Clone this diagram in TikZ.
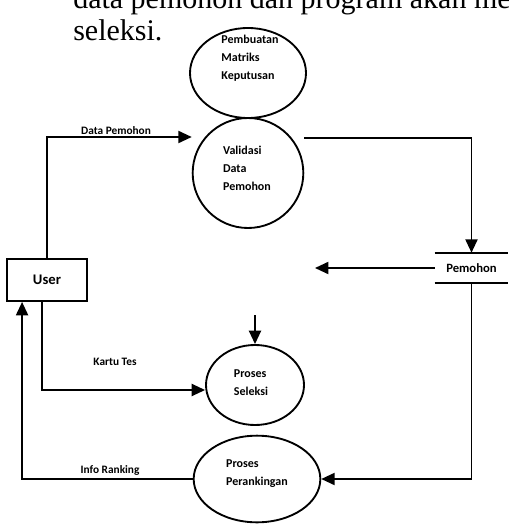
\documentclass[tikz,border=0pt]{standalone}
\usepackage{fontspec}
\setmainfont{Liberation Serif}
\newfontfamily\dfdfont{Carlito}
\usetikzlibrary{shapes.geometric,arrows.meta,calc}

\tikzset{
  proses/.style={draw, ellipse, line width=1.4pt, inner sep=0pt},
  teks/.style={font=\dfdfont\bfseries\fontsize{9}{13.5}\selectfont, align=left, inner sep=0pt},
  lbl/.style={font=\dfdfont\bfseries\fontsize{8.5}{10}\selectfont, inner sep=0pt},
  garis/.style={line width=1.4pt},
  flow/.style={line width=1.4pt, -{Triangle[length=10pt,width=9pt]}}
}

\begin{document}
\begin{tikzpicture}[x=0.75pt,y=0.75pt,yscale=-1,xscale=1]
\useasboundingbox (0,0) rectangle (508,524);
\clip (0,0) rectangle (508,524);
% teks paragraf
\node[anchor=base west, inner sep=0pt, font=\fontsize{22.5}{26}\selectfont] (para1) at (73,9) {data pemohon dan program akan mene};
\node[anchor=base west, inner sep=0pt, font=\fontsize{22.5}{26}\selectfont] (para2) at (73,41) {seleksi.};
% proses
\node[proses, minimum width=87pt, minimum height=67.5pt] (matriks) at (248,73) {};
\node[teks] (matriks-t) at (250,58) {Pembuatan\\Matriks\\Keputusan};
\node[proses, minimum width=83pt, minimum height=82.5pt] (validasi) at (248,173) {};
\node[teks] (validasi-t) at (247,168) {Validasi\\Data\\Pemohon};
\node[proses, minimum width=73.5pt, minimum height=60pt] (seleksi) at (255,385) {};
\node[teks] (seleksi-t) at (251,383) {Proses\\Seleksi};
\node[proses, minimum width=95pt, minimum height=65pt] (ranking) at (257,479) {};
\node[teks] (ranking-t) at (257,474) {Proses\\Perankingan};
% entitas dan data store
\node[draw, garis, minimum width=60pt, minimum height=31.5pt, font=\dfdfont\bfseries\fontsize{11}{13}\selectfont] (user) at (47,280) {User};
\node[minimum width=55pt, minimum height=22.5pt, inner sep=0pt, font=\dfdfont\bfseries\fontsize{9.5}{11}\selectfont] (pemohon) at (471.5,268) {Pemohon};
\draw[garis] (pemohon.north west) -- (pemohon.north east);
\draw[garis] (pemohon.south west) -- (pemohon.south east);
\coordinate (kiri) at (315,268);
\coordinate (atas) at (255,315);
% aliran data
\draw[flow] (user.north) |- ($(validasi.west)+(0,-36)$);
\draw[flow] ($(validasi.east)+(0,-35)$) -| (pemohon.north);
\draw[flow] (pemohon.west) -- (kiri);
\draw[flow] (pemohon.south) |- (ranking.east);
\draw[flow] (ranking.west) -| ($(user.south west)+(16,0)$);
\draw[flow] ($(user.south)+(-5,0)$) |- ($(seleksi.west)+(0,5)$);
\draw[flow] (atas) -- (seleksi.north);
% label
\node[lbl] (l-data) at (116,131) {Data Pemohon};
\node[lbl] (l-kartu) at (115,362) {Kartu Tes};
\node[lbl] (l-info) at (110,470) {Info Ranking};
\end{tikzpicture}
\end{document}
